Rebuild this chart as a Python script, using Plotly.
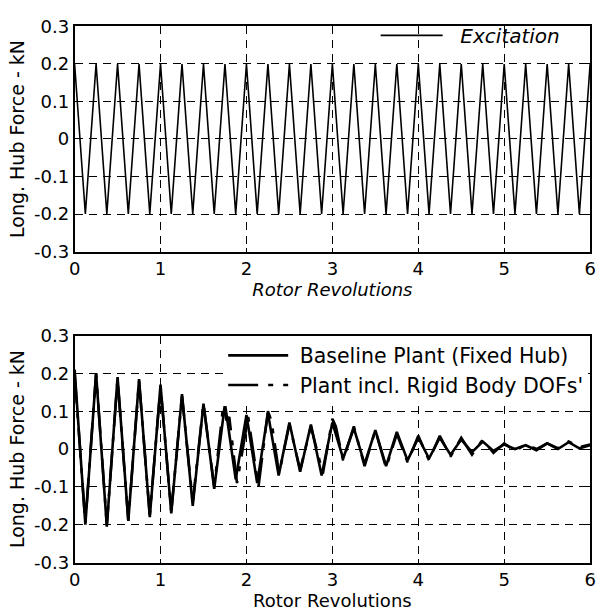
import plotly.graph_objects as go

# ---------------- data ----------------
rev_grid = [0.0, 0.125, 0.25, 0.375, 0.5, 0.625, 0.75, 0.875,
            1.0, 1.125, 1.25, 1.375, 1.5, 1.625, 1.75, 1.875,
            2.0, 2.125, 2.25, 2.375, 2.5, 2.625, 2.75, 2.875,
            3.0, 3.125, 3.25, 3.375, 3.5, 3.625, 3.75, 3.875,
            4.0, 4.125, 4.25, 4.375, 4.5, 4.625, 4.75, 4.875,
            5.0, 5.125, 5.25, 5.375, 5.5, 5.625, 5.75, 5.875, 6.0]

excitation = [0.2, -0.2, 0.2, -0.2, 0.2, -0.2, 0.2, -0.2,
              0.2, -0.2, 0.2, -0.2, 0.2, -0.2, 0.2, -0.2,
              0.2, -0.2, 0.2, -0.2, 0.2, -0.2, 0.2, -0.2,
              0.2, -0.2, 0.2, -0.2, 0.2, -0.2, 0.2, -0.2,
              0.2, -0.2, 0.2, -0.2, 0.2, -0.2, 0.2, -0.2,
              0.2, -0.2, 0.2, -0.2, 0.2, -0.2, 0.2, -0.2, 0.2]

baseline = [0.21, -0.20, 0.20, -0.205, 0.19, -0.19, 0.185, -0.18,
            0.17, -0.17, 0.145, -0.15, 0.12, -0.105, 0.12, -0.08,
            0.09, -0.09, 0.095, -0.07, 0.07, -0.06, 0.065, -0.07,
            0.07, -0.025, 0.055, -0.04, 0.05, -0.045, 0.045, -0.03,
            0.03, -0.025, 0.03, -0.015, 0.025, -0.008, 0.02, -0.005,
            0.012, 0.0, 0.01, -0.003, 0.015, 0.0, 0.018, 0.002, 0.01]

rigid_rev = [0.0, 0.125, 0.25, 0.375, 0.5, 0.625, 0.75, 0.875,
             1.0, 1.125, 1.25, 1.375, 1.5, 1.625, 1.73, 1.77, 1.8, 1.89,
             2.02, 2.14, 2.25, 2.29, 2.38, 2.5, 2.625, 2.75, 2.89,
             3.0, 3.04, 3.125, 3.25, 3.375, 3.5, 3.625, 3.75, 3.875,
             4.0, 4.125, 4.25, 4.375, 4.5, 4.625, 4.75, 4.875,
             5.0, 5.125, 5.25, 5.375, 5.5, 5.625, 5.75, 5.875, 6.0]
rigid = [0.2, -0.195, 0.2, -0.2, 0.185, -0.19, 0.18, -0.175,
         0.165, -0.165, 0.14, -0.14, 0.12, -0.1, 0.115, 0.075, 0.085, -0.09,
         0.085, -0.1, 0.1, 0.075, -0.065, 0.065, -0.055, 0.06, -0.065,
         0.08, 0.06, -0.03, 0.06, -0.045, 0.05, -0.05, 0.04, -0.035,
         0.035, -0.03, 0.035, -0.02, 0.03, -0.015, 0.025, -0.01,
         0.015, -0.005, 0.012, 0.0, 0.015, 0.002, 0.02, 0.005, 0.012]

x_ticks = [0, 1, 2, 3, 4, 5, 6]
y_ticks = [-0.3, -0.2, -0.1, 0, 0.1, 0.2, 0.3]
y_tick_text = ["-0.3", "-0.2", "-0.1", "0", "0.1", "0.2", "0.3"]
x_title = "Rotor Revolutions"
y_title = "Long. Hub Force - kN"

# ---------------- figure ----------------
FONT = "DejaVu Sans"
NB = "\u00a0"
fig = go.Figure()

fig.add_trace(go.Scatter(x=rev_grid, y=excitation, mode="lines", name=NB * 2 + "Excitation",
                         line=dict(color="black", width=1.6),
                         xaxis="x", yaxis="y", legend="legend"))
fig.add_trace(go.Scatter(x=rev_grid, y=baseline, mode="lines", name=NB + "Baseline Plant (Fixed Hub)",
                         line=dict(color="black", width=2.6),
                         xaxis="x2", yaxis="y2", legend="legend2"))
fig.add_trace(go.Scatter(x=rigid_rev, y=rigid, mode="lines", name=NB + "Plant incl. Rigid Body DOFs'",
                         line=dict(color="black", width=2.6, dash="30px,10px,5px,10px"),
                         xaxis="x2", yaxis="y2", legend="legend2"))

xdom = [70 / 603, 596 / 603]
top_dom = [1 - 249 / 616, 1 - 16 / 616]
bot_dom = [1 - 571 / 616, 1 - 336 / 616]

axis_common = dict(showline=True, linecolor="black", linewidth=1.6, mirror="ticks",
                   ticks="inside", ticklen=4, tickcolor="black",
                   showgrid=True, gridcolor="black", gridwidth=1.3, griddash="8px,6px",
                   zeroline=False, tickfont=dict(family=FONT, size=18, color="black"))

xa = dict(axis_common, range=[0, 6], tickvals=x_ticks, domain=xdom)
ya = dict(axis_common, range=[-0.3, 0.3], tickvals=y_ticks, ticktext=y_tick_text)

fig.update_layout(
    width=603, height=616,
    margin=dict(l=0, r=0, t=0, b=0, pad=0),
    paper_bgcolor="white", plot_bgcolor="white",
    showlegend=True,
    xaxis=dict(xa, anchor="y",
               title=dict(text=x_title, standoff=2,
                          font=dict(family=FONT, size=18, color="black", style="italic"))),
    yaxis=dict(ya, anchor="x", domain=top_dom,
               title=dict(text=y_title, standoff=4, font=dict(family=FONT, size=19, color="black"))),
    xaxis2=dict(xa, anchor="y2",
                title=dict(text=x_title, standoff=2, font=dict(family=FONT, size=18, color="black"))),
    yaxis2=dict(ya, anchor="x2", domain=bot_dom,
                title=dict(text=y_title, standoff=4, font=dict(family=FONT, size=19, color="black"))),
    legend=dict(x=571 / 603, xanchor="right", y=1 - 5 / 616, yanchor="top",
                bgcolor="rgba(255,255,255,0)", borderwidth=0, itemwidth=62,
                font=dict(family=FONT, size=20, color="black", style="italic")),
    legend2=dict(x=594 / 603, xanchor="right", y=1 - 336 / 616, yanchor="top",
                 bgcolor="white", borderwidth=0, itemwidth=60, tracegroupgap=0,
                 font=dict(family=FONT, size=20.5, color="black")),
)

fig.write_html("out.html")
